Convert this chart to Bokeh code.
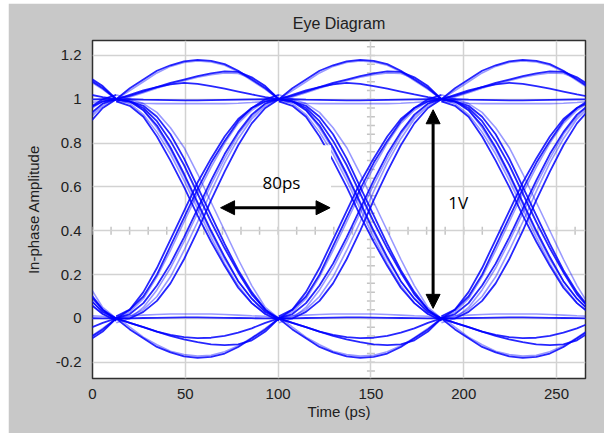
import math
from bokeh.plotting import figure
from bokeh.models import Arrow, NormalHead, Label, ColumnDataSource, Spacer, BoxAnnotation, FixedTicker
from bokeh.layouts import column, row
from bokeh.embed import file_html
from bokeh.resources import INLINE

# ---------------- data ----------------
# start of each unit interval (ps) and its length
ui_starts = [-74.8, 12.8, 100.4, 188.0]
ui_length = 87.6
# sample positions inside one unit interval (fraction of the interval)
ui_fracs = [0, 1/12, 2/12, 3/12, 4/12, 5/12, 6/12, 7/12, 8/12, 9/12, 10/12, 11/12, 1]

# rising transitions 0 -> 1
rise_a = [0.00, 0.04, 0.12, 0.23, 0.36, 0.49, 0.62, 0.73, 0.83, 0.91, 0.96, 0.99, 1.00]
rise_b = [0.00, 0.03, 0.09, 0.19, 0.31, 0.44, 0.57, 0.69, 0.80, 0.89, 0.95, 0.99, 1.00]
rise_c = [0.00, 0.02, 0.07, 0.15, 0.25, 0.37, 0.50, 0.63, 0.75, 0.85, 0.93, 0.98, 1.00]
rise_d = [0.00, 0.01, 0.04, 0.10, 0.19, 0.31, 0.44, 0.58, 0.71, 0.82, 0.91, 0.97, 1.00]
rise_e = [0.00, 0.00, 0.03, 0.08, 0.16, 0.27, 0.40, 0.54, 0.67, 0.79, 0.89, 0.96, 1.00]
rise_f = [-0.02, 0.00, 0.05, 0.13, 0.23, 0.35, 0.48, 0.61, 0.73, 0.84, 0.92, 0.98, 1.01]
rise_g = [0.01, 0.04, 0.10, 0.20, 0.33, 0.46, 0.59, 0.71, 0.81, 0.90, 0.96, 1.00, 1.02]

# falling transitions 1 -> 0
fall_a = [1.00, 0.99, 0.96, 0.90, 0.81, 0.70, 0.57, 0.44, 0.32, 0.21, 0.11, 0.04, 0.00]
fall_b = [1.00, 0.98, 0.93, 0.85, 0.75, 0.63, 0.50, 0.37, 0.25, 0.15, 0.07, 0.02, 0.00]
fall_c = [1.00, 0.99, 0.95, 0.88, 0.78, 0.66, 0.53, 0.40, 0.28, 0.17, 0.09, 0.03, 0.00]
fall_d = [1.00, 1.00, 0.98, 0.94, 0.87, 0.78, 0.66, 0.53, 0.40, 0.27, 0.15, 0.05, 0.00]
fall_e = [1.00, 0.99, 0.97, 0.92, 0.84, 0.73, 0.60, 0.47, 0.34, 0.22, 0.12, 0.04, -0.01]
fall_f = [1.02, 1.00, 0.95, 0.87, 0.77, 0.65, 0.52, 0.39, 0.27, 0.17, 0.09, 0.03, 0.00]
fall_g = [0.99, 0.97, 0.92, 0.83, 0.72, 0.60, 0.47, 0.35, 0.24, 0.14, 0.07, 0.02, -0.01]

# traces staying high (overshoot arcs and flat ones)
top_arc_hi = [1.00, 1.05, 1.09, 1.13, 1.155, 1.173, 1.18, 1.175, 1.16, 1.13, 1.09, 1.05, 1.00]
top_arc_hi2 = [1.00, 1.04, 1.08, 1.12, 1.15, 1.168, 1.175, 1.17, 1.155, 1.125, 1.085, 1.045, 1.00]
top_arc_mid = [1.00, 1.015, 1.035, 1.055, 1.075, 1.09, 1.105, 1.118, 1.127, 1.125, 1.10, 1.06, 1.00]
top_arc_mid2 = [0.99, 1.01, 1.03, 1.05, 1.07, 1.085, 1.10, 1.112, 1.12, 1.118, 1.095, 1.055, 1.00]
top_hump = [1.00, 1.02, 1.04, 1.055, 1.068, 1.075, 1.07, 1.06, 1.048, 1.035, 1.022, 1.01, 1.00]
top_flat = [1.00, 1.00, 0.998, 0.997, 0.996, 0.995, 0.995, 0.996, 0.997, 0.998, 0.999, 1.00, 1.00]
top_flat2 = [0.99, 0.985, 0.982, 0.98, 0.98, 0.98, 0.98, 0.98, 0.98, 0.982, 0.985, 0.99, 1.00]

# traces staying low (undershoot arcs and flat ones)
bot_arc_lo = [0.00, -0.05, -0.09, -0.13, -0.155, -0.173, -0.18, -0.175, -0.16, -0.13, -0.09, -0.05, 0.00]
bot_arc_lo2 = [0.01, -0.04, -0.085, -0.12, -0.15, -0.165, -0.172, -0.168, -0.152, -0.125, -0.088, -0.045, 0.00]
bot_arc_mid = [0.00, -0.02, -0.04, -0.06, -0.08, -0.095, -0.108, -0.118, -0.122, -0.118, -0.10, -0.06, 0.00]
bot_dip = [0.00, -0.02, -0.04, -0.06, -0.075, -0.085, -0.09, -0.088, -0.08, -0.065, -0.045, -0.02, 0.00]
bot_flat = [0.00, 0.00, 0.002, 0.003, 0.004, 0.005, 0.005, 0.004, 0.003, 0.002, 0.001, 0.00, 0.00]
bot_flat2 = [0.01, 0.012, 0.015, 0.018, 0.02, 0.02, 0.02, 0.02, 0.018, 0.015, 0.012, 0.01, 0.00]

dark_traces = [rise_a, rise_c, rise_e, rise_g, fall_a, fall_c, fall_e, fall_g,
               top_arc_hi, top_arc_mid, top_hump, top_flat,
               bot_arc_lo, bot_arc_mid, bot_dip, bot_flat]
light_traces = [rise_b, rise_d, rise_f, fall_b, fall_d, fall_f,
                top_arc_hi2, top_arc_mid2, top_flat2,
                bot_arc_lo2, bot_flat2]

x_ticks = [0, 50, 100, 150, 200, 250]
y_ticks = [-0.2, 0, 0.2, 0.4, 0.6, 0.8, 1, 1.2]
y_tick_labels = {-0.2: "-0.2", 0: "0", 0.2: "0.2", 0.4: "0.4", 0.6: "0.6", 0.8: "0.8", 1: "1", 1.2: "1.2"}

# annotations
span_time = [69, 128]      # ps, horizontal arrow
span_time_y = 0.505
span_volt_x = 183.5
span_volt = [0.046, 0.952]  # vertical arrow

x_lo, x_hi = 0, 265.6
y_lo, y_hi = -0.274, 1.268

# ---------------- figure ----------------
def build(traces):
    xs, ys = [], []
    for s in ui_starts:
        for tr in traces:
            xs.append([s + f * ui_length for f in ui_fracs])
            ys.append(list(tr))
    return ColumnDataSource(dict(xs=xs, ys=ys))

p = figure(width=596, height=430, x_range=(x_lo, x_hi), y_range=(y_lo, y_hi),
           output_backend="svg", toolbar_location=None, title="Eye Diagram",
           min_border_left=84, min_border_right=19, min_border_top=37, min_border_bottom=55)

bg = "#c8c8c8"
p.border_fill_color = bg
p.background_fill_color = "white"
p.outline_line_color = "#303030"
p.outline_line_width = 1.5

p.title.align = "center"
p.title.text_font = "Liberation Sans"
p.title.text_font_size = "16px"
p.title.text_font_style = "normal"
p.title.text_color = "#202020"
p.title.standoff = 18

for ax in (p.xaxis, p.yaxis):
    ax.axis_line_color = None
    ax.major_tick_line_color = None
    ax.minor_tick_line_color = None
    ax.major_label_text_font = "Liberation Sans"
    ax.major_label_text_font_size = "15px"
    ax.major_label_text_color = "#202020"
    ax.axis_label_text_font = "Liberation Sans"
    ax.axis_label_text_font_size = "15px"
    ax.axis_label_text_font_style = "normal"
    ax.axis_label_text_color = "#202020"

p.xaxis.major_label_standoff = 4
p.yaxis.major_label_standoff = 5
p.xaxis.ticker = FixedTicker(ticks=x_ticks)
p.yaxis.ticker = FixedTicker(ticks=y_ticks)
p.yaxis.major_label_overrides = y_tick_labels
p.xaxis.axis_label = "Time (ps)"
p.yaxis.axis_label = "In-phase Amplitude"
p.xaxis.axis_label_standoff = 1
p.yaxis.axis_label_standoff = 11

p.xgrid.ticker = FixedTicker(ticks=x_ticks)
p.ygrid.ticker = FixedTicker(ticks=y_ticks)
for g in (p.xgrid, p.ygrid):
    g.grid_line_color = "#d2d2d2"
    g.grid_line_width = 1.5

# centre axes minor ticks
cx = 150
cy = 0.4
minor_y = [round(-0.24 + 0.04 * i, 2) for i in range(38)]
minor_x = [10 * i for i in range(27)]
p.scatter(x=[cx] * len(minor_y), y=minor_y, marker="dash", size=8,
          line_color="#c4c4c4", line_width=1.5, level="underlay")
p.scatter(x=minor_x, y=[cy] * len(minor_x), marker="dash", size=8, angle=math.pi / 2,
          line_color="#c4c4c4", line_width=1.5, level="underlay")

p.multi_line(xs="xs", ys="ys", source=build(light_traces), line_color="#0000ff",
             line_alpha=0.4, line_width=1.6)
p.multi_line(xs="xs", ys="ys", source=build(dark_traces), line_color="#0000ff",
             line_alpha=0.85, line_width=1.8)

# white text box behind "80ps"
p.add_layout(BoxAnnotation(left=104, right=128.5, bottom=0.56, top=0.79,
                           fill_color="white", fill_alpha=1.0, line_alpha=0))

p.add_layout(Arrow(start=NormalHead(size=14, fill_color="black", line_color="black"),
                   end=NormalHead(size=14, fill_color="black", line_color="black"),
                   x_start=span_time[0], y_start=span_time_y,
                   x_end=span_time[1], y_end=span_time_y,
                   line_width=3, line_color="black"))
p.add_layout(Arrow(start=NormalHead(size=14, fill_color="black", line_color="black"),
                   end=NormalHead(size=14, fill_color="black", line_color="black"),
                   x_start=span_volt_x, y_start=span_volt[0],
                   x_end=span_volt_x, y_end=span_volt[1],
                   line_width=3, line_color="black"))

p.add_layout(Label(x=101.8, y=0.62, text="80ps", text_align="center", text_baseline="middle",
                   text_font="Open Sans", text_font_size="17px", text_color="black"))
p.add_layout(Label(x=197, y=0.528, text="1V", text_align="center", text_baseline="middle",
                   text_font="Open Sans", text_font_size="17px", text_color="black"))

layout = column(Spacer(height=3, width=604), row(Spacer(width=8, height=430), p))
open("out.html", "w").write(file_html(layout, INLINE))
